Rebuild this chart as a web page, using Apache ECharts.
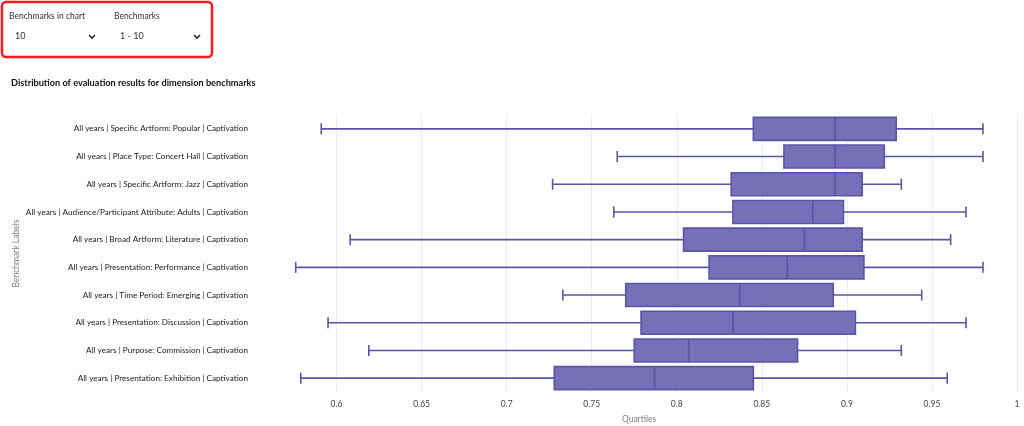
<!DOCTYPE html>
<html><head><meta charset="utf-8">
<script src="https://cdn.jsdelivr.net/npm/echarts@6/dist/echarts.min.js"></script>
<style>html,body{margin:0;padding:0;background:#fff}#c{width:1024px;height:426px}</style>
</head><body><div id="c"></div>
<script>
const categories = [
  "All years | Specific Artform: Popular | Captivation",
  "All years | Place Type: Concert Hall | Captivation",
  "All years | Specific Artform: Jazz | Captivation",
  "All years | Audience/Participant Attribute: Adults | Captivation",
  "All years | Broad Artform: Literature | Captivation",
  "All years | Presentation: Performance | Captivation",
  "All years | Time Period: Emerging | Captivation",
  "All years | Presentation: Discussion | Captivation",
  "All years | Purpose: Commission | Captivation",
  "All years | Presentation: Exhibition | Captivation"
];
const mins    = [0.591, 0.765, 0.727, 0.763, 0.608, 0.576, 0.733, 0.595, 0.619, 0.579];
const q1s     = [0.845, 0.863, 0.832, 0.833, 0.804, 0.819, 0.770, 0.779, 0.775, 0.728];
const medians = [0.893, 0.893, 0.893, 0.880, 0.875, 0.865, 0.837, 0.833, 0.807, 0.787];
const q3s     = [0.929, 0.922, 0.909, 0.898, 0.909, 0.910, 0.892, 0.905, 0.871, 0.845];
const maxs    = [0.980, 0.980, 0.932, 0.970, 0.961, 0.980, 0.944, 0.970, 0.932, 0.959];
const xTicks  = [0.6, 0.65, 0.7, 0.75, 0.8, 0.85, 0.9, 0.95, 1];

const FONT = 'Lato';
const data = categories.map((c, i) => [mins[i], q1s[i], medians[i], q3s[i], maxs[i], i]);

const chart = echarts.init(document.getElementById('c'), null, {renderer: 'canvas'});

function chevron(x, y) {
  return {type: 'polyline', shape: {points: [[x, y], [x + 3, y + 3], [x + 6, y]]},
    style: {stroke: '#262730', lineWidth: 1.6, fill: null}};
}

const option = {
  animation: false,
  backgroundColor: '#fff',
  textStyle: {fontFamily: FONT},
  grid: {left: 261, right: 7, top: 115, bottom: 34, containLabel: false, outerBoundsMode: 'none'},
  xAxis: {
    type: 'value', min: 0.5556, max: 1.0,
    name: 'Quartiles', nameLocation: 'middle', nameGap: 23,
    nameTextStyle: {color: '#7f7f8a', fontSize: 8.5, fontFamily: FONT},
    axisLine: {show: false}, axisTick: {show: false, customValues: xTicks},
    axisLabel: {customValues: xTicks, color: '#444', fontSize: 8.5, fontFamily: FONT, margin: 8,
      formatter: v => String(+v.toFixed(2))},
    splitLine: {show: true, lineStyle: {color: '#ebebeb', width: 1}}
  },
  yAxis: {
    type: 'category', data: categories, inverse: true,
    name: 'Benchmark Labels', nameLocation: 'middle', nameGap: 240, nameRotate: 90,
    nameMoveOverlap: false,
    nameTextStyle: {color: '#7f7f8a', fontSize: 8.5, fontFamily: FONT},
    axisLine: {show: false}, axisTick: {show: false},
    axisLabel: {color: '#1a1a22', fontSize: 8.2, fontFamily: FONT, margin: 13},
    splitLine: {show: false}
  },
  graphic: [
    {type: 'rect', shape: {x: 2, y: 2, width: 210, height: 55, r: 4},
      style: {fill: null, stroke: '#ff1a1a', lineWidth: 2.5}},
    {type: 'text', x: 9, y: 12, style: {text: 'Benchmarks in chart', fill: '#31333f', fontSize: 8.5, fontFamily: FONT}},
    {type: 'text', x: 15, y: 32, style: {text: '10', fill: '#31333f', fontSize: 9, fontFamily: FONT}},
    chevron(89, 35),
    {type: 'text', x: 114, y: 12, style: {text: 'Benchmarks', fill: '#31333f', fontSize: 8.5, fontFamily: FONT}},
    {type: 'text', x: 120, y: 32, style: {text: '1 - 10', fill: '#31333f', fontSize: 9, fontFamily: FONT}},
    chevron(194, 35),
    {type: 'text', x: 11, y: 79, style: {text: 'Distribution of evaluation results for dimension benchmarks',
      fill: '#111', fontSize: 9.2, fontWeight: 'bold', fontFamily: FONT}}
  ],
  series: [{
    type: 'custom',
    data: data,
    encode: {x: [0, 1, 2, 3, 4], y: 5},
    renderItem: function (params, api) {
      const yi = api.value(5);
      const pMin = api.coord([api.value(0), yi]);
      const pQ1 = api.coord([api.value(1), yi]);
      const pMed = api.coord([api.value(2), yi]);
      const pQ3 = api.coord([api.value(3), yi]);
      const pMax = api.coord([api.value(4), yi]);
      const band = api.size([0, 1])[1];
      const bh = band * 0.83;
      const ch = bh * 0.48;
      const y = pMed[1];
      const lineCol = '#5b54a6';
      const ls = {stroke: lineCol, lineWidth: 1.6};
      return {type: 'group', children: [
        {type: 'line', shape: {x1: pMin[0], y1: y, x2: pQ1[0], y2: y}, style: ls},
        {type: 'line', shape: {x1: pQ3[0], y1: y, x2: pMax[0], y2: y}, style: ls},
        {type: 'line', shape: {x1: pMin[0], y1: y - ch / 2, x2: pMin[0], y2: y + ch / 2}, style: ls},
        {type: 'line', shape: {x1: pMax[0], y1: y - ch / 2, x2: pMax[0], y2: y + ch / 2}, style: ls},
        {type: 'rect', shape: {x: pQ1[0], y: y - bh / 2, width: pQ3[0] - pQ1[0], height: bh},
          style: {fill: '#7570b8', stroke: '#5b54a6', lineWidth: 1.6}},
        {type: 'line', shape: {x1: pMed[0], y1: y - bh / 2, x2: pMed[0], y2: y + bh / 2}, style: ls}
      ]};
    }
  }]
};
chart.setOption(option);
</script></body></html>
